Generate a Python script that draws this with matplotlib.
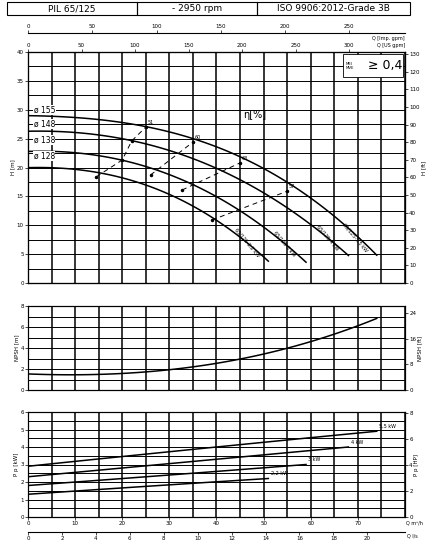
import numpy as np
import matplotlib
matplotlib.use("Agg")
import matplotlib.pyplot as plt
from matplotlib.patches import Rectangle

title_cells = ["PIL 65/125", "- 2950 rpm", "ISO 9906:2012-Grade 3B"]
diam_labels = ["ø 155", "ø 148", "ø 138", "ø 128"]
motor_labels = ["65/125-5,5 kW", "65/125-4 kW", "65/125-3 kW", "65/125-2,2 kW"]
q_155 = [0, 10, 20, 30, 40, 50, 60, 70, 74]
h_155 = [29, 28.6, 27.8, 26.2, 23.6, 19.8, 14.6, 8.2, 4.7]
q_148 = [0, 10, 20, 30, 40, 50, 60, 68]
h_148 = [26.3, 26.0, 25.0, 23.0, 19.9, 15.4, 10.3, 4.7]
q_138 = [0, 10, 20, 30, 40, 50, 59]
h_138 = [22.8, 22.5, 21.3, 18.8, 14.9, 9.7, 3.6]
q_128 = [0, 10, 20, 25, 30, 40, 51]
h_128 = [20, 19.6, 18.2, 17.1, 15.3, 10.8, 3.8]
eff_labels = ["51", "60", "63", "57"]
eff_q = [[14.5, 20, 22, 25], [26, 35], [32.7, 45], [39, 55]]
eff_h = [[18.4, 21.3, 24.6, 27.0], [18.7, 24.4], [16.1, 20.8], [10.9, 15.9]]
npsh_q = [0, 10, 20, 30, 40, 50, 60, 70, 74]
npsh_m = [1.5, 1.5, 1.6, 1.9, 2.5, 3.4, 4.7, 6.1, 6.8]
pw_labels = ["5,5 kW", "4 kW", "3 kW", "2,2 kW"]
pw_q = [[0, 40, 74], [0, 40, 68], [0, 30, 59], [0, 25, 51]]
pw_p = [[2.9, 4.0, 4.9], [2.3, 3.3, 4.0], [1.8, 2.4, 3.0], [1.3, 1.75, 2.2]]

fs = 4
fig = plt.figure(figsize=(4.34, 5.56), dpi=100)
L, W = 28/434, 377/434
def fy(p): return 1 - p/556

def smooth(q, v, deg=3):
    z = np.polyfit(q, v, deg); qq = np.linspace(q[0], q[-1], 100)
    return qq, np.polyval(z, qq)

for x0, x1, t in zip([7, 137, 257], [137, 257, 410], title_cells):
    fig.patches.append(Rectangle((x0/434, fy(15)), (x1-x0)/434, 13/556, transform=fig.transFigure,
                                 fill=False, lw=0.8, ec='black'))
    fig.text((x0+x1)/2/434, fy(8.5), t, ha='center', va='center', fontsize=6.5)

def grid_ax(ax, ymax, ystep):
    ax.set_xlim(0, 80); ax.set_ylim(0, ymax)
    for x in np.arange(0, 81, 5):
        ax.axvline(x, color='black', lw=1.1, zorder=0)
    for y in np.arange(0, ymax+0.01, ystep):
        ax.axhline(y, color='black', lw=0.7, zorder=0)
    ax.tick_params(labelsize=fs, length=2, width=0.5, pad=1)
    for s in ax.spines.values(): s.set_linewidth(0.8)

ax = fig.add_axes([L, fy(283), W, (283-52)/556])
grid_ax(ax, 40, 2.5)
ax.set_xticks([]); ax.set_yticks(range(0, 41, 5))
ax.set_ylabel("H [m]", fontsize=fs, labelpad=1)
for q, h in [(q_155, h_155), (q_148, h_148), (q_138, h_138), (q_128, h_128)]:
    ax.plot(*smooth(q, h), color='black', lw=1.1)
for lab, y in zip(diam_labels, [30.0, 27.5, 24.8, 22.0]):
    ax.text(1.2, y, lab, fontsize=5.5, va='center', bbox=dict(fc='white', ec='none', pad=0.3))
for lab, q, h in zip(eff_labels, eff_q, eff_h):
    ax.plot(q, h, color='black', lw=0.7, ls=(0, (5, 4)))
    ax.plot(q, h, 'o', color='black', ms=1.5)
    ax.text(q[-1]+0.4, h[-1]+0.5, lab, fontsize=3.5)
for lab, q, h in zip(motor_labels, [q_155, q_148, q_138, q_128], [h_155, h_148, h_138, h_128]):
    ax.text(q[-1]-4.5, h[-1]+3.2, lab, fontsize=3.5, rotation=-50, ha='center', va='center')
ax.text(48, 28.5, "η[%]", fontsize=7, ha='center')
ax.add_patch(Rectangle((66.8, 35.6), 12.8, 4.1, fc='white', ec='black', lw=0.6, zorder=5))
ax.text(67.4, 37.6, "MEI\nMVE", fontsize=2.8, ha='left', va='center', linespacing=1.0, zorder=6)
ax.text(79.4, 37.6, "≥ 0,4", fontsize=9, ha='right', va='center', zorder=6)
axr = ax.twinx(); axr.set_ylim(0, 40*3.2808); axr.set_yticks(range(0, 131, 10))
axr.tick_params(labelsize=fs, length=2, width=0.5, pad=1)
axr.set_ylabel("H [ft]", fontsize=fs, labelpad=1)
axt = ax.twiny(); axt.set_xlim(0, 80*4.4029); axt.set_xticks(range(0, 301, 50))
axt.tick_params(labelsize=fs, length=2, width=0.5, pad=1)
axt.text(1.0, 1.02, "Q [US gpm]", transform=ax.transAxes, fontsize=3.5, ha='right')

ai = fig.add_axes([L, fy(33), W, 0.0001])
ai.set_xlim(0, 80*3.6662); ai.set_xticks(range(0, 251, 50)); ai.set_yticks([])
for s in ['left', 'right', 'bottom']: ai.spines[s].set_visible(False)
ai.xaxis.tick_top(); ai.tick_params(labelsize=fs, length=2, width=0.5, pad=1)
ai.spines['top'].set_linewidth(0.8)
fig.text(L+W, fy(40), "Q [Imp. gpm]", fontsize=3.5, ha='right')

an = fig.add_axes([L, fy(390), W, (390-306)/556])
grid_ax(an, 8, 1)
an.set_xticks([]); an.set_yticks(range(0, 9, 2))
an.set_ylabel("NPSH [m]", fontsize=fs, labelpad=1)
an.plot(*smooth(npsh_q, npsh_m), color='black', lw=1.1)
anr = an.twinx(); anr.set_ylim(0, 8*3.2808); anr.set_yticks([0, 8, 16, 24])
anr.tick_params(labelsize=fs, length=2, width=0.5, pad=1)
anr.set_ylabel("NPSH [ft]", fontsize=fs, labelpad=1)

ap = fig.add_axes([L, fy(517), W, (517-412)/556])
grid_ax(ap, 6, 0.5)
ap.set_xticks(range(0, 71, 10)); ap.set_yticks(range(0, 7))
ap.set_ylabel("P p [kW]", fontsize=fs, labelpad=1)
for lab, q, p in zip(pw_labels, pw_q, pw_p):
    ap.plot(*smooth(q, p, 2), color='black', lw=1.1)
    ap.text(q[-1]+0.5, p[-1]+0.2, lab, fontsize=3.5)
apr = ap.twinx(); apr.set_ylim(0, 6*1.341); apr.set_yticks(range(0, 9, 2))
apr.tick_params(labelsize=fs, length=2, width=0.5, pad=1)
apr.set_ylabel("P p [HP]", fontsize=fs, labelpad=1)
ap.text(80.3, -0.45, "Q m³/h", fontsize=3.5)

al = fig.add_axes([L, fy(532), W, 0.0001])
al.set_xlim(0, 80/3.6); al.set_xticks(range(0, 21, 2)); al.set_yticks([])
for s in ['left', 'right', 'top']: al.spines[s].set_visible(False)
al.tick_params(labelsize=fs, length=2, width=0.5, pad=1)
al.spines['bottom'].set_linewidth(0.8)
fig.text(L+W+0.005, fy(537), "Q l/s", fontsize=3.5)

fig.savefig("out.png", dpi=100)
